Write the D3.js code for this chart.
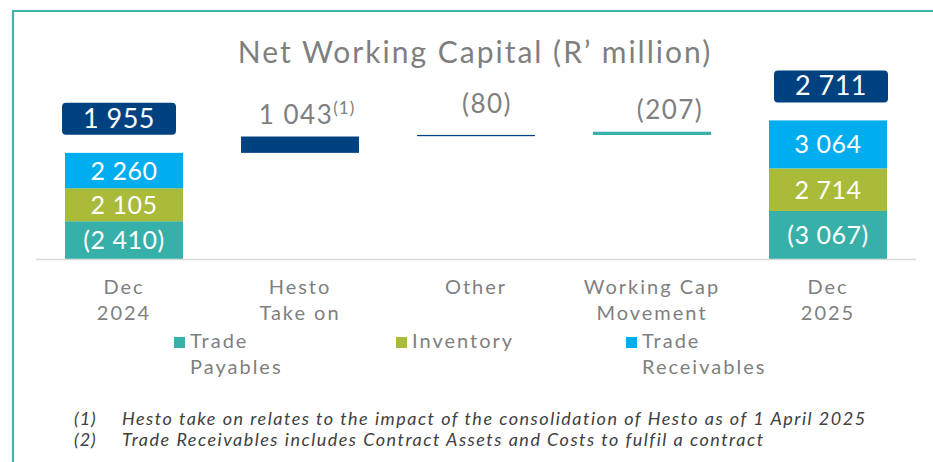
<!DOCTYPE html>
<html>
<head>
<meta charset="utf-8">
<script src="https://cdn.jsdelivr.net/npm/d3@7"></script>
<style>
    body { margin: 0; background: #ffffff; }
    svg text { font-family: "Lato", "Open Sans", sans-serif; }
</style>
</head>
<body>
<div id="chart"></div>
<script>
// categories along the x axis (two lines each)
const categories = ["Dec 2024", "Hesto Take on", "Other", "Working Cap Movement", "Dec 2025"];
const categoryLines = [["Dec", "2024"], ["Hesto", "Take on"], ["Other"], ["Working Cap", "Movement"], ["Dec", "2025"]];

// stacked components for the two year-end columns
const stackColumns = ["Dec 2024", "Dec 2025"];
const tradePayables = [-2410, -3067];
const inventory = [2105, 2714];
const tradeReceivables = [2260, 3064];
const netWorkingCapital = [1955, 2711];

// floating movements in between
const moveColumns = ["Hesto Take on", "Other", "Working Cap Movement"];
const moveValues = [1043, -80, -207];
const moveStart = [6775, 7920, 8124];   // where each floating bar starts

const seriesNames = ["Trade Payables", "Inventory", "Trade Receivables"];
const seriesLegend = [["Trade", "Payables"], ["Inventory"], ["Trade", "Receivables"]];
const seriesColors = ["#37b0a9", "#a9bb38", "#00aeef"];
const navy = "#00427f";

const footnotes = [
    ["(1)", "Hesto take on relates to the impact of the consolidation of Hesto as of 1 April 2025"],
    ["(2)", "Trade Receivables includes Contract Assets and Costs to fulfil a contract"]
];

const width = 933, height = 462;

const svg = d3.select("#chart").append("svg")
    .attr("width", width)
    .attr("height", height);

// frame lines (top and left)
svg.append("path")
    .attr("d", "M13,462 V11 H933")
    .attr("fill", "none")
    .attr("stroke", "#3db5aa")
    .attr("stroke-width", 2.2);

// title
svg.append("text")
    .attr("x", 475)
    .attr("y", 63)
    .attr("text-anchor", "middle")
    .attr("font-size", 30)
    .attr("letter-spacing", 2)
    .attr("fill", "#7f7f7f")
    .text("Net Working Capital (R\u2019 million)");

const x = d3.scaleBand()
    .domain(categories)
    .range([36, 916])
    .paddingInner(58 / 176)
    .paddingOuter(29 / 176);

const y = d3.scaleLinear()
    .domain([0, 9000])
    .range([259, 118]);

const locale = d3.formatLocale({decimal: ".", thousands: " ", grouping: [3], currency: ["", ""]});
const fmtNum = locale.format(",d");
const fmt = v => v < 0 ? "(" + fmtNum(-v) + ")" : fmtNum(v);

// stacked data, payables drawn as positive heights
const stackRows = stackColumns.map((c, i) => ({
    cat: c,
    "Trade Payables": Math.abs(tradePayables[i]),
    "Inventory": inventory[i],
    "Trade Receivables": tradeReceivables[i],
    raw: {"Trade Payables": tradePayables[i], "Inventory": inventory[i], "Trade Receivables": tradeReceivables[i]}
}));
const stacked = d3.stack().keys(seriesNames)(stackRows);

const layers = svg.selectAll("g.layer")
    .data(stacked)
    .enter()
    .append("g")
    .attr("class", "layer")
    .attr("fill", (d, i) => seriesColors[i]);

layers.selectAll("rect")
    .data(d => d)
    .enter()
    .append("rect")
    .attr("x", d => x(d.data.cat))
    .attr("y", d => y(d[1]))
    .attr("width", x.bandwidth())
    .attr("height", d => y(d[0]) - y(d[1]));

layers.each(function(s) {
    d3.select(this).selectAll("text")
        .data(s)
        .enter()
        .append("text")
        .attr("x", d => x(d.data.cat) + x.bandwidth() / 2)
        .attr("y", d => (y(d[0]) + y(d[1])) / 2 + 9)
        .attr("text-anchor", "middle")
        .attr("font-size", 25)
        .attr("letter-spacing", 0.5)
        .attr("fill", "#ffffff")
        .text(d => fmt(d.data.raw[s.key]));
});

// net working capital boxes on top of each stack
const boxShift = [-5, 3];
stackColumns.forEach((c, i) => {
    let top = y(d3.sum(stacked, s => s[i][1] - s[i][0]));
    let bw = 114, bh = 32;
    let cx = x(c) + x.bandwidth() / 2 + boxShift[i];
    svg.append("rect")
        .attr("x", cx - bw / 2)
        .attr("y", top - 18 - bh)
        .attr("width", bw)
        .attr("height", bh)
        .attr("rx", 4)
        .attr("fill", navy);
    svg.append("text")
        .attr("x", cx)
        .attr("y", top - 18 - 7)
        .attr("text-anchor", "middle")
        .attr("font-size", 27)
        .attr("letter-spacing", 0.5)
        .attr("fill", "#ffffff")
        .text(fmt(netWorkingCapital[i]));
});

// floating movement bars
const moveColors = [navy, navy, "#37b0a9"];
moveColumns.forEach((c, i) => {
    let a = moveStart[i], b = moveStart[i] + moveValues[i];
    let top = y(Math.max(a, b)), bottom = y(Math.min(a, b));
    svg.append("rect")
        .attr("x", x(c))
        .attr("y", top)
        .attr("width", x.bandwidth())
        .attr("height", Math.max(bottom - top, 1))
        .attr("fill", moveColors[i]);

    let lbl = svg.append("text")
        .attr("x", x(c) + x.bandwidth() / 2 + (i === 0 ? 7 : i === 1 ? 11 : 18))
        .attr("y", top - (i === 1 ? 22 : 13))
        .attr("text-anchor", "middle")
        .attr("font-size", 26)
        .attr("letter-spacing", 1.5)
        .attr("fill", "#7f7f7f");
    lbl.append("tspan").text(fmt(moveValues[i]));
    if (i === 0) {
        lbl.append("tspan")
            .attr("font-size", 17)
            .attr("letter-spacing", 1)
            .attr("dy", -10)
            .text("(1)");
    }
});

// baseline
svg.append("line")
    .attr("x1", 36)
    .attr("x2", 916)
    .attr("y1", y(0) + 0.5)
    .attr("y2", y(0) + 0.5)
    .attr("stroke", "#d9d9d9")
    .attr("stroke-width", 1.5);

// category labels
categories.forEach((c, i) => {
    let t = svg.append("text")
        .attr("x", x(c) + x.bandwidth() / 2)
        .attr("y", 294)
        .attr("text-anchor", "middle")
        .attr("font-size", 20)
        .attr("letter-spacing", 2)
        .attr("fill", "#7f7f7f");
    categoryLines[i].forEach((line, j) => {
        t.append("tspan")
            .attr("x", x(c) + x.bandwidth() / 2)
            .attr("dy", j === 0 ? 0 : 26)
            .text(line);
    });
});

// legend
const legendX = [174, 396, 626];
seriesNames.forEach((s, i) => {
    svg.append("rect")
        .attr("x", legendX[i])
        .attr("y", 337)
        .attr("width", 11)
        .attr("height", 11)
        .attr("fill", seriesColors[i]);
    let t = svg.append("text")
        .attr("y", 348)
        .attr("font-size", 20)
        .attr("letter-spacing", 2)
        .attr("fill", "#7f7f7f");
    seriesLegend[i].forEach((line, j) => {
        t.append("tspan")
            .attr("x", legendX[i] + 16)
            .attr("dy", j === 0 ? 0 : 26)
            .text(line);
    });
});

// footnotes
footnotes.forEach((f, i) => {
    svg.append("text")
        .attr("x", 74)
        .attr("y", 425 + i * 21)
        .attr("font-size", 18)
        .attr("font-style", "italic")
        .attr("letter-spacing", 1)
        .attr("fill", "#404040")
        .text(f[0]);
    svg.append("text")
        .attr("x", 122)
        .attr("y", 425 + i * 21)
        .attr("font-size", 18)
        .attr("font-style", "italic")
        .attr("letter-spacing", 1.5)
        .attr("fill", "#404040")
        .text(f[1]);
});
</script>
</body>
</html>
